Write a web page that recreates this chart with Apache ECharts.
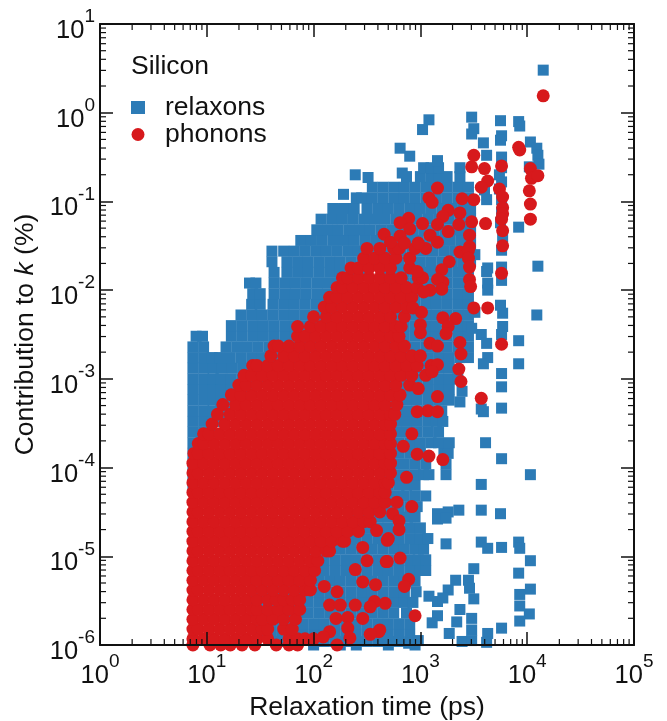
<!DOCTYPE html>
<html><head><meta charset="utf-8">
<script src="https://cdn.jsdelivr.net/npm/echarts@6/dist/echarts.min.js"></script>
<style>html,body{margin:0;padding:0;background:#fff}#c{width:667px;height:721px}</style>
</head><body><div id="c"></div>
<script>
// All values below are log10 readings: [log10 k(%), [log10 tau(ps), ...]]
const relaxonRows = [
[-6.00,[2.0,2.25,2.4,2.7,2.95]],
[-5.96,[0.87,1.05,1.3,1.7,2.0,2.1,2.2,2.3,2.4,2.5,2.6,2.7,2.8,2.92]],
[-5.88,[1.5,1.6,1.7,1.8,1.9,2.0,2.1,2.2,2.3,2.4,2.5,2.6,2.7,2.8,2.9]],
[-5.76,[1.5,1.6,1.7,1.8,1.9,2.0,2.1,2.2,2.3,2.4,2.5,2.6,2.7,2.8,2.9]],
[-5.64,[1.45,1.55,1.65,1.75,1.85,1.95,2.05,2.15,2.25,2.35,2.45,2.55,2.65,2.75,2.87]],
[-5.52,[1.45,1.55,1.65,1.75,1.85,1.95,2.05,2.15,2.25,2.35,2.45,2.55,2.65,2.75,2.85,2.93]],
[-5.40,[1.45,1.55,1.65,1.75,1.85,1.95,2.05,2.15,2.25,2.35,2.45,2.55,2.65,2.75,2.85,2.96]],
[-5.28,[1.45,1.55,1.65,1.75,1.85,1.95,2.05,2.15,2.25,2.35,2.45,2.55,2.65,2.75,2.85,2.95]],
[-5.16,[2.0,2.1,2.2,2.3,2.4,2.5,2.6,2.7,2.8,2.9,3.0,3.05]],
[-5.04,[2.0,2.1,2.2,2.3,2.4,2.5,2.6,2.7,2.8,2.9,2.98,3.05]],
[-4.92,[2.05,2.15,2.25,2.35,2.45,2.55,2.65,2.75,2.85,2.95,3.03]],
[-4.80,[2.2,2.3,2.4,2.5,2.6,2.7,2.8,2.9,3.0,3.07]],
[-4.68,[2.3,2.4,2.5,2.6,2.7,2.8,2.9,3.0]],
[-4.56,[2.4,2.5,2.6,2.7,2.8,2.88,2.95]],
[-4.44,[2.5,2.6,2.7,2.8,2.9,2.97]],
[-4.32,[2.55,2.65,2.75,2.85,2.95,3.05]],
[-4.20,[0.87,2.6,2.7,2.8,2.87,2.95]],
[-4.08,[0.87,2.65,2.75,2.85,2.95,3.03,3.08,3.24]],
[-3.96,[0.87,0.92,2.65,2.75,2.85,2.95,3.05,3.24]],
[-3.84,[0.87,0.95,2.6,2.7,2.8,2.9,3.0,3.22,3.26]],
[-3.72,[0.87,0.96,2.6,2.7,2.8,2.9,3.0,3.1,3.17,3.27]],
[-3.60,[0.87,0.97,1.03,2.67,2.77,2.87,2.97,3.07,3.17]],
[-3.48,[0.87,0.97,1.05,1.12,2.67,2.77,2.87,2.97,3.07,3.15,3.21]],
[-3.36,[0.87,0.97,1.06,1.13,1.2,2.67,2.77,2.87,2.97,3.07,3.14,3.2]],
[-3.24,[0.87,0.97,1.06,1.13,1.23,1.33,2.67,2.77,2.87,2.97,3.07,3.17,3.27]],
[-3.12,[0.87,0.97,1.06,1.13,1.23,1.33,1.42,2.67,2.77,2.87,2.97,3.07,3.17,3.27]],
[-3.00,[0.87,0.97,1.06,1.13,1.23,1.33,1.43,1.52,2.67,2.77,2.87,2.97,3.07,3.17,3.27,3.35]],
[-2.88,[0.87,0.97,1.06,1.14,1.24,1.34,1.44,1.54,1.62,2.67,2.77,2.87,2.97,3.07,3.17,3.27]],
[-2.76,[0.87,0.97,1.05,1.12,1.22,1.32,1.42,1.52,1.62,1.72,1.82,1.92,2.67,2.77,2.87,2.97,3.07,3.17,3.27,3.37,3.45]],
[-2.64,[0.87,0.97,1.18,1.28,1.38,1.48,1.58,1.68,1.78,1.88,1.98,2.65,2.75,2.85,2.95,3.05,3.15,3.25,3.35,3.45]],
[-2.52,[0.9,0.96,1.23,1.33,1.43,1.53,1.63,1.73,1.83,1.93,2.0,2.65,2.75,2.85,2.95,3.05,3.15,3.25,3.35,3.45]],
[-2.40,[1.23,1.33,1.43,1.53,1.63,1.73,1.83,1.93,2.03,2.1,2.65,2.75,2.85,2.95,3.05,3.15,3.25,3.35,3.45]],
[-2.28,[1.32,1.42,1.52,1.62,1.72,1.82,1.92,2.02,2.12,2.2,2.65,2.75,2.85,2.95,3.05,3.15,3.25,3.35,3.45]],
[-2.16,[1.42,1.5,1.62,1.72,1.82,1.92,2.02,2.12,2.22,2.3,2.65,2.75,2.85,2.95,3.05,3.15,3.25,3.35,3.45]],
[-2.04,[1.43,1.5,1.63,1.73,1.83,1.93,2.03,2.13,2.23,2.3,2.65,2.75,2.85,2.95,3.05,3.15,3.25,3.35,3.45]],
[-1.92,[1.40,1.46,1.63,1.73,1.83,1.93,2.03,2.13,2.23,2.33,2.4,2.65,2.75,2.85,2.95,3.05,3.15,3.25,3.35,3.45]],
[-1.80,[1.63,1.75,1.85,1.95,2.05,2.15,2.25,2.35,2.45,2.65,2.75,2.85,2.95,3.05,3.15,3.25,3.35,3.45]],
[-1.68,[1.61,1.75,1.85,1.95,2.05,2.15,2.25,2.35,2.45,2.5,2.6,2.7,2.8,2.9,3.0,3.1,3.2,3.3,3.4,3.47]],
[-1.56,[1.61,1.72,1.82,1.92,2.02,2.12,2.22,2.32,2.42,2.52,2.62,2.72,2.82,2.92,3.02,3.12,3.22,3.32,3.42,3.47]],
[-1.44,[1.88,1.98,2.08,2.18,2.28,2.38,2.48,2.58,2.68,2.78,2.88,2.98,3.08,3.18,3.28,3.38,3.47]],
[-1.32,[2.03,2.13,2.23,2.33,2.43,2.53,2.63,2.73,2.83,2.93,3.03,3.13,3.23,3.33,3.43,3.47]],
[-1.20,[2.07,2.17,2.27,2.37,2.47,2.57,2.67,2.77,2.87,2.97,3.07,3.17,3.27,3.37,3.47]],
[-1.08,[2.18,2.28,2.38,2.5,2.6,2.7,2.8,2.9,3.0,3.1,3.2,3.3,3.4,3.47]],
[-0.96,[2.4,2.45,2.55,2.65,2.75,2.85,2.95,3.05,3.15,3.25,3.35,3.45]],
[-0.84,[2.55,2.65,2.75,2.85,2.95,3.05,3.15,3.25,3.35,3.45]],
[-0.72,[2.87,3.0,3.1,3.17,3.25,3.37]],
[-0.62,[3.03,3.1,3.17,3.37]],
[-0.54,[3.16]]
];
const relaxonStrayTau = [4.15,3.08,3.02,2.81,2.90,2.83,3.48,3.50,3.48,3.59,3.62,3.75,3.76,3.75,3.76,3.92,3.93,4.03,4.09,4.10,4.11,4.02,3.76,3.76,3.60,3.62,3.75,3.77,3.76,3.76,3.76,3.92,4.10,4.09,3.92,3.63,3.62,3.63,3.63,3.51,3.51,3.76,3.76,3.75,3.77,3.77,3.76,3.57,3.62,3.48,3.63,3.59,3.92,3.76,3.76,3.39,3.37,3.57,3.59,3.76,3.61,3.76,4.03,3.57,3.36,3.26,3.16,3.16,3.24,3.57,3.75,3.24,3.57,3.63,3.76,3.92,3.93,4.03,3.92,3.50,3.33,3.45,3.26,3.46,3.50,3.08,3.16,3.21,4.03,3.93,3.93,4.02,3.93,3.37,3.16,3.11,3.34,3.48,3.48,3.27,3.76,3.63,3.62,3.39,3.48,2.98,2.89,2.28,2.39,2.51,3.74,3.74];
const relaxonStrayK = [0.48,-0.08,-0.19,-0.40,-0.49,-0.68,-0.05,-0.18,-0.24,-0.34,-0.48,-0.09,-0.26,-0.31,-0.50,-0.10,-0.15,-0.33,-0.40,-0.48,-0.58,-0.61,-0.62,-0.78,-0.87,-0.98,-1.24,-1.40,-1.55,-1.12,-0.98,-1.29,-1.73,-2.28,-2.57,-1.75,-1.79,-1.92,-2.0,-2.25,-1.60,-1.74,-1.89,-2.17,-2.26,-2.41,-2.50,-2.50,-2.60,-2.43,-2.76,-2.83,-2.83,-2.94,-3.09,-3.14,-3.26,-3.34,-3.37,-3.33,-3.72,-3.90,-4.08,-4.19,-4.48,-4.50,-4.52,-4.58,-4.57,-4.48,-4.52,-4.86,-4.84,-4.91,-4.90,-4.84,-4.91,-5.05,-5.19,-5.14,-5.27,-5.27,-5.38,-5.36,-5.48,-5.45,-5.51,-5.47,-5.37,-5.43,-5.56,-5.65,-5.73,-5.60,-5.67,-5.75,-5.74,-5.70,-5.83,-5.87,-5.81,-5.87,-5.97,-5.96,-5.95,-5.95,-5.98,-0.92,-0.70,-0.73,-0.70,-0.86];

const phononRows = [
[-6.00,[0.87,1.03,1.13,1.22,1.33,1.45,1.65,1.77,1.85]],
[-5.93,[0.87,0.97,1.07,1.17,1.27,1.37,1.47,1.57,1.77,1.85,1.92,2.0]],
[-5.82,[0.87,0.92,1.02,1.12,1.22,1.32,1.42,1.52,1.57,1.72,1.8]],
[-5.71,[0.87,0.97,1.07,1.17,1.27,1.37,1.47,1.52,1.62,1.72,1.83]],
[-5.60,[0.87,0.92,1.02,1.12,1.22,1.32,1.42,1.47,1.57,1.67,1.77,1.87]],
[-5.49,[0.87,0.97,1.07,1.17,1.27,1.37,1.47,1.57,1.65,1.72,1.8,1.87]],
[-5.38,[0.87,0.92,1.02,1.12,1.22,1.32,1.42,1.52,1.62,1.72,1.82,1.92,1.97]],
[-5.27,[0.87,0.97,1.07,1.17,1.27,1.37,1.47,1.57,1.67,1.77,1.87,1.97]],
[-5.16,[0.87,0.92,1.02,1.12,1.22,1.32,1.42,1.52,1.62,1.72,1.82,1.92,2.01]],
[-5.05,[0.87,0.97,1.07,1.17,1.27,1.37,1.47,1.57,1.67,1.77,1.87,1.97,2.04]],
[-4.94,[0.87,0.92,1.02,1.12,1.22,1.32,1.42,1.52,1.62,1.72,1.82,1.92,2.02,2.12,2.15]],
[-4.83,[0.87,0.97,1.07,1.17,1.27,1.37,1.47,1.57,1.67,1.77,1.87,1.97,2.07,2.17,2.27,2.29]],
[-4.72,[0.87,0.92,1.02,1.12,1.22,1.32,1.42,1.52,1.62,1.72,1.82,1.92,2.02,2.12,2.22,2.32,2.42]],
[-4.61,[0.87,0.97,1.07,1.17,1.27,1.37,1.47,1.57,1.67,1.77,1.87,1.97,2.07,2.17,2.27,2.37,2.47,2.53]],
[-4.50,[0.87,0.92,1.02,1.12,1.22,1.32,1.42,1.52,1.62,1.72,1.82,1.92,2.02,2.12,2.22,2.32,2.42,2.52,2.62]],
[-4.39,[0.87,0.97,1.07,1.17,1.27,1.37,1.47,1.57,1.67,1.77,1.87,1.97,2.07,2.17,2.27,2.37,2.47,2.57,2.67]],
[-4.28,[0.87,0.92,1.02,1.12,1.22,1.32,1.42,1.52,1.62,1.72,1.82,1.92,2.02,2.12,2.22,2.32,2.42,2.52,2.62,2.67]],
[-4.17,[0.87,0.97,1.07,1.17,1.27,1.37,1.47,1.57,1.67,1.77,1.87,1.97,2.07,2.17,2.27,2.37,2.47,2.57,2.67,2.7]],
[-4.06,[0.87,0.92,1.02,1.12,1.22,1.32,1.42,1.52,1.62,1.72,1.82,1.92,2.02,2.12,2.22,2.32,2.42,2.52,2.62,2.72]],
[-3.95,[0.87,0.97,1.07,1.17,1.27,1.37,1.47,1.57,1.67,1.77,1.87,1.97,2.07,2.17,2.27,2.37,2.47,2.57,2.67,2.72]],
[-3.84,[0.88,0.92,1.02,1.12,1.22,1.32,1.42,1.52,1.62,1.72,1.82,1.92,2.02,2.12,2.22,2.32,2.42,2.52,2.62,2.72]],
[-3.73,[0.92,0.97,1.07,1.17,1.27,1.37,1.47,1.57,1.67,1.77,1.87,1.97,2.07,2.17,2.27,2.37,2.47,2.57,2.67,2.72]],
[-3.62,[0.97,1.02,1.12,1.22,1.32,1.42,1.52,1.62,1.72,1.82,1.92,2.02,2.12,2.22,2.32,2.42,2.52,2.62,2.72]],
[-3.51,[1.05,1.17,1.27,1.37,1.47,1.57,1.67,1.77,1.87,1.97,2.07,2.17,2.27,2.37,2.47,2.57,2.67,2.72]],
[-3.40,[1.1,1.22,1.32,1.42,1.52,1.62,1.72,1.82,1.92,2.02,2.12,2.22,2.32,2.42,2.52,2.62,2.72,2.76]],
[-3.29,[1.15,1.27,1.37,1.47,1.57,1.67,1.77,1.87,1.97,2.07,2.17,2.27,2.37,2.47,2.57,2.67,2.78]],
[-3.18,[1.23,1.32,1.42,1.52,1.62,1.72,1.82,1.92,2.02,2.12,2.22,2.32,2.42,2.52,2.62,2.72,2.81]],
[-3.07,[1.3,1.37,1.47,1.57,1.67,1.77,1.87,1.97,2.07,2.17,2.27,2.37,2.47,2.57,2.67,2.77,2.9]],
[-2.96,[1.35,1.42,1.52,1.62,1.72,1.82,1.92,2.02,2.12,2.22,2.32,2.42,2.52,2.62,2.72,2.82,2.92,3.05]],
[-2.85,[1.43,1.47,1.57,1.67,1.77,1.87,1.97,2.07,2.17,2.27,2.37,2.47,2.57,2.67,2.77,2.87,2.97,3.1]],
[-2.74,[1.6,1.72,1.82,1.92,2.02,2.12,2.22,2.32,2.42,2.52,2.62,2.72,2.82,2.92,3.0]],
[-2.63,[1.63,1.67,1.77,1.87,1.97,2.07,2.17,2.27,2.37,2.47,2.57,2.67,2.77,2.85]],
[-2.52,[1.85,1.92,2.02,2.12,2.22,2.32,2.42,2.52,2.62,2.72,2.8]],
[-2.41,[1.85,1.97,2.07,2.17,2.27,2.37,2.47,2.57,2.67,2.77,2.82]],
[-2.30,[2.0,2.12,2.22,2.32,2.42,2.52,2.62,2.72,2.85]],
[-2.19,[2.1,2.17,2.27,2.37,2.47,2.57,2.67,2.77,2.87]],
[-2.08,[2.15,2.22,2.32,2.42,2.52,2.62,2.72,2.82,2.92]],
[-1.97,[2.22,2.27,2.37,2.47,2.57,2.67,2.77,2.87,2.97]],
[-1.86,[2.27,2.32,2.42,2.52,2.62,2.72,2.82,2.98]],
[-1.75,[2.35,2.42,2.52,2.62,2.72,2.9]],
[-1.64,[2.47,2.57,2.67,2.77,2.9]],
[-1.53,[2.5,2.62,2.75,2.8,2.95,3.05]]
];
const phononStrayTau = [4.15,3.50,3.48,3.60,3.76,3.92,3.93,4.03,4.04,4.10,4.02,4.03,4.03,3.63,3.57,3.74,3.77,3.77,3.77,3.76,3.77,3.77,3.76,3.61,3.50,3.39,3.16,3.08,3.11,3.26,3.21,3.37,3.48,3.36,3.26,3.02,3.16,2.89,2.81,2.90,2.66,2.72,2.81,2.85,3.09,3.16,2.98,3.46,3.46,3.37,3.45,3.45,3.46,3.27,3.20,3.21,3.16,3.20,3.46,3.47,3.09,3.03,3.02,2.97,3.50,3.63,3.21,3.33,3.26,3.24,3.37,3.76,2.93,3.01,3.0,3.0,3.09,3.16,3.38,3.36,3.38,3.57,3.16,3.16,3.11,2.98,3.07,3.16,2.97,2.92,2.84,2.97,3.08,3.21,2.87,2.78,2.92,2.74,2.80,2.80,2.70,2.81,2.68,2.89,2.85,2.67,2.95,2.62,2.59,2.69,2.46,2.50,2.69,2.39,2.46,2.58,2.10,2.22,2.39,2.15,2.25,2.57,2.53,2.46,2.21,2.32,2.32,2.61,2.53,2.15,2.34,2.22,2.09];
const phononStrayK = [0.19,-0.48,-0.61,-0.63,-0.60,-0.39,-0.42,-0.63,-0.74,-0.71,-0.88,-1.03,-1.20,-0.77,-0.84,-0.86,-0.95,-1.07,-1.14,-1.20,-1.33,-1.50,-1.81,-1.25,-0.98,-0.97,-0.85,-0.96,-1.01,-1.10,-1.17,-1.13,-1.23,-1.26,-1.34,-1.25,-1.26,-1.19,-1.24,-1.31,-1.37,-1.46,-1.39,-1.47,-1.38,-1.46,-1.47,-1.38,-1.51,-1.57,-1.55,-1.64,-1.74,-1.68,-1.77,-1.91,-1.88,-1.99,-1.88,-1.96,-2.0,-2.02,-1.86,-1.79,-2.20,-2.20,-2.31,-2.32,-2.41,-2.49,-2.59,-2.61,-2.2,-2.25,-2.39,-2.48,-2.60,-2.63,-2.72,-2.89,-3.03,-3.22,-3.20,-2.84,-2.92,-3.11,-3.36,-3.37,-3.37,-3.62,-3.76,-3.85,-3.87,-3.91,-4.11,-4.39,-4.44,-4.52,-4.6,-4.70,-4.80,-5.02,-5.06,-5.26,-5.34,-5.53,-5.67,-5.83,-4.71,-4.82,-4.90,-5.05,-5.06,-5.15,-5.29,-5.32,-5.34,-5.40,-5.55,-5.55,-5.55,-5.51,-5.57,-5.70,-5.70,-5.69,-5.81,-5.85,-5.88,-5.85,-5.92,-6.0,-5.91];

const tauTicks = [1,1e1,1e2,1e3,1e4,1e5];
const kTicks = [1e-6,1e-5,1e-4,1e-3,1e-2,1e-1,1,10];
const minorMultipliers = [2,3,4,5,6,7,8,9];
const legendNames = ['relaxons','phonons'];
const plotLabel = 'Silicon';

function expand(rows, strayTau, strayK){
  const out = [];
  rows.forEach(r => r[1].forEach(t => out.push([Math.pow(10,t), Math.pow(10,r[0])])));
  strayTau.forEach((t,i) => out.push([Math.pow(10,t), Math.pow(10,strayK[i])]));
  return out;
}
const minorsOf = ticks => ticks.slice(0,-1).flatMap(d => minorMultipliers.map(m => [d*m]));

const INK = '#111';
const FONT = '"Liberation Sans", Arial, sans-serif';
const SIZE = 26.5;
const rich = {
  b:{fontFamily:FONT,fontSize:25.5,color:INK,padding:[14,0,0,0]},
  s:{fontFamily:FONT,fontSize:19,color:INK,padding:[0,0,14,0]}
};
const decadeLabel = v => `{b|10}{s|${Math.round(Math.log10(v))}}`;
const baseAxis = {
  type:'log', logBase:10, splitLine:{show:false}, minorTick:{show:false},
  axisLine:{onZero:false,lineStyle:{color:INK,width:2}},
  axisTick:{inside:true,length:13,lineStyle:{color:INK,width:1.5}},
  z:10
};
function minorSeries(values, axisDim){
  return {
    type:'custom', coordinateSystem:'cartesian2d', silent:true, clip:false, z:12,
    data:values,
    encode: axisDim==='x' ? {x:0} : {y:0},
    renderItem:(p,api)=>{
      const v = api.value(0);
      const L = 6, s = {stroke:INK,lineWidth:1.2};
      if(axisDim==='x'){
        const a = api.coord([v,1e-6]), b = api.coord([v,10]);
        return {type:'group',children:[
          {type:'line',shape:{x1:a[0],y1:a[1],x2:a[0],y2:a[1]-L},style:s},
          {type:'line',shape:{x1:b[0],y1:b[1],x2:b[0],y2:b[1]+L},style:s}]};
      }
      const a = api.coord([1,v]), b = api.coord([1e5,v]);
      return {type:'group',children:[
        {type:'line',shape:{x1:a[0],y1:a[1],x2:a[0]+L,y2:a[1]},style:s},
        {type:'line',shape:{x1:b[0],y1:b[1],x2:b[0]-L,y2:b[1]},style:s}]};
    }
  };
}
const chart = echarts.init(document.getElementById('c'),null,{renderer:'canvas'});
chart.setOption({
  animation:false, backgroundColor:'#fff',
  title:{text:plotLabel,left:126,top:48,textStyle:{fontFamily:FONT,fontSize:SIZE,fontWeight:'normal',color:INK}},
  legend:{
    orient:'vertical',left:126,top:89,itemGap:0,itemWidth:14,itemHeight:13,
    textStyle:{fontFamily:FONT,fontSize:SIZE,color:INK,padding:[0,0,0,15]},
    data:[{name:legendNames[0],icon:'rect'},{name:legendNames[1],icon:'circle'}],
    selectedMode:false
  },
  grid:{left:100,top:24,width:534,height:621,outerBoundsMode:'none',containLabel:false},
  xAxis:[
    Object.assign({},baseAxis,{min:tauTicks[0],max:tauTicks[5],position:'bottom',
      name:'Relaxation time (ps)',nameLocation:'middle',nameGap:48,
      nameTextStyle:{fontFamily:FONT,fontSize:SIZE,color:INK},
      axisLabel:{formatter:decadeLabel,rich,margin:4,showMinLabel:true,showMaxLabel:true}}),
    Object.assign({},baseAxis,{min:tauTicks[0],max:tauTicks[5],position:'top',axisLabel:{show:false}})
  ],
  yAxis:[
    Object.assign({},baseAxis,{min:kTicks[0],max:kTicks[7],position:'left',
      name:'{n|Contribution to }{i|k}{n| (%)}',nameLocation:'middle',nameGap:60,
      nameTextStyle:{rich:{n:{fontFamily:FONT,fontSize:SIZE,color:INK},i:{fontFamily:FONT,fontSize:SIZE,fontStyle:'italic',color:INK}}},
      axisLabel:{formatter:decadeLabel,rich,margin:5,showMinLabel:true,showMaxLabel:true}}),
    Object.assign({},baseAxis,{min:kTicks[0],max:kTicks[7],position:'right',axisLabel:{show:false}})
  ],
  series:[
    {name:legendNames[0],type:'scatter',symbol:'rect',symbolSize:11,clip:false,z:2,
     itemStyle:{color:'#2c7bb6',opacity:1},data:expand(relaxonRows,relaxonStrayTau,relaxonStrayK)},
    {name:legendNames[1],type:'scatter',symbol:'circle',symbolSize:13,clip:false,z:3,
     itemStyle:{color:'#d7191c',opacity:1},data:expand(phononRows,phononStrayTau,phononStrayK)},
    minorSeries(minorsOf(tauTicks),'x'),
    minorSeries(minorsOf(kTicks),'y')
  ]
});
</script></body></html>
